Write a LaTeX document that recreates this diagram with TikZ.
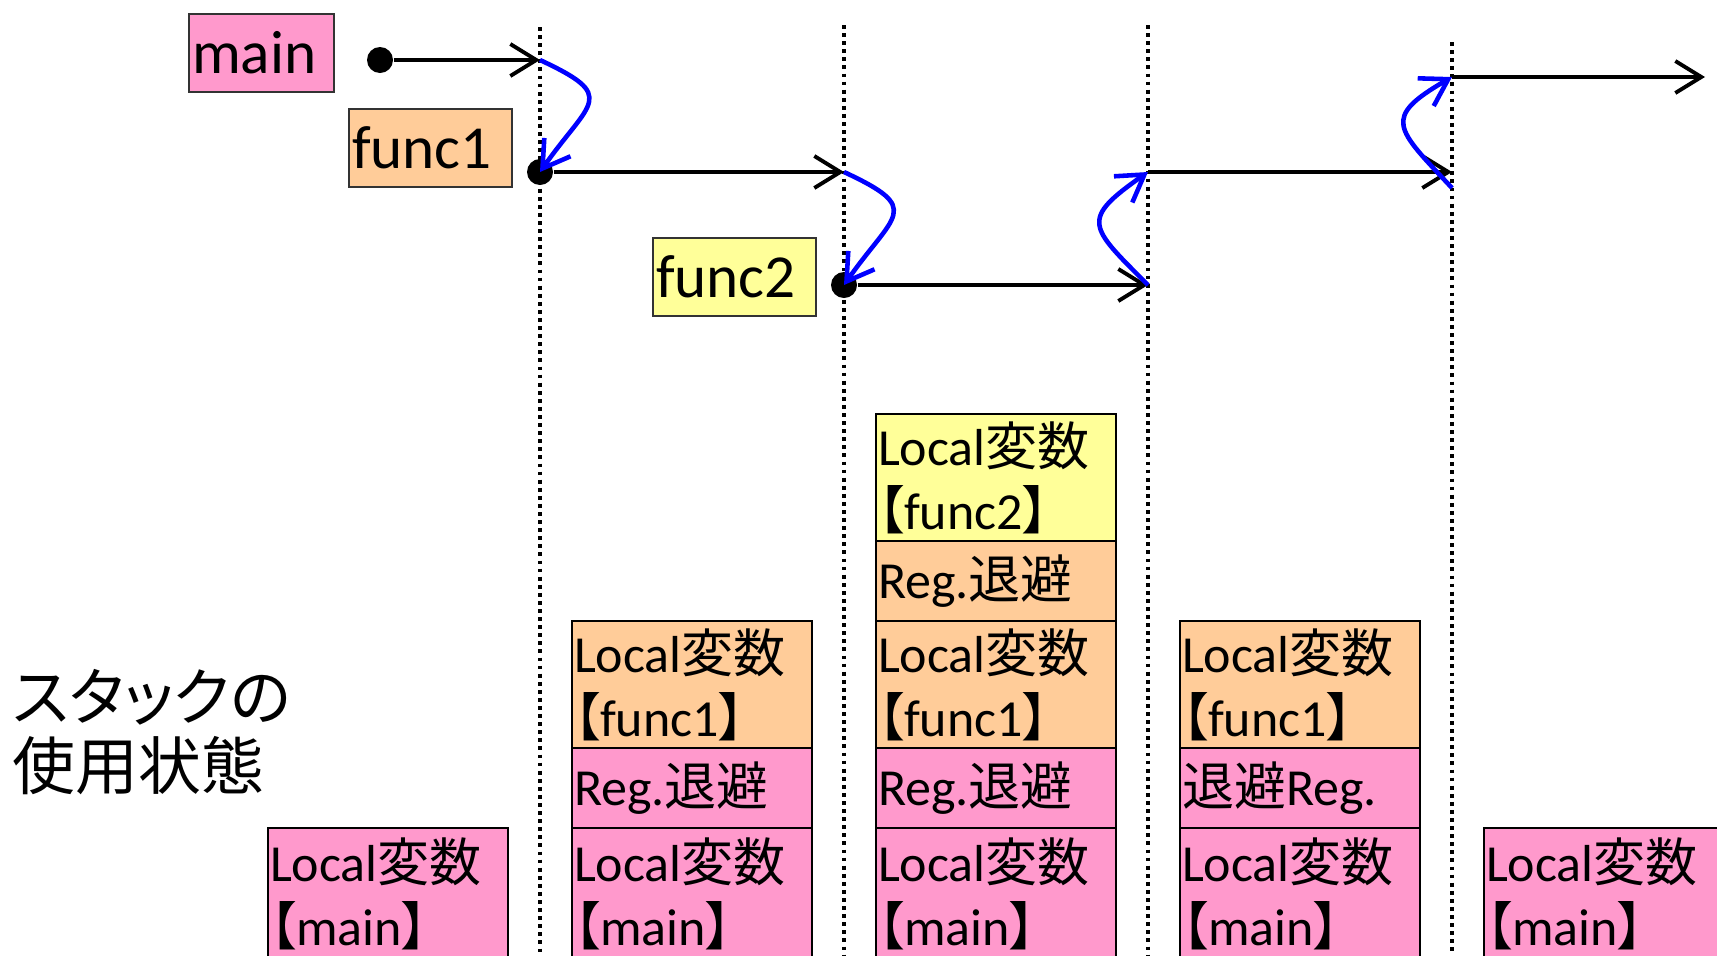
\documentclass[tikz,border=0pt]{standalone}
\usepackage{fontspec}
\setmainfont{Carlito}
\newfontfamily\jp{Noto Sans CJK JP}
\newfontfamily\jpk[RawFeature=+palt]{Noto Sans CJK JP}
\usepackage{tikz}
\usetikzlibrary{arrows.meta, positioning, shapes}
\definecolor{rosepile}{rgb}{1.0, 0.6, 0.8}
\definecolor{pechepile}{rgb}{1.0, 0.8, 0.6}
\definecolor{jaunepile}{rgb}{1.0, 1.0, 0.6}
\tikzstyle{etiquette} = [rectangle, draw = black!80, line width = 0.6pt, inner xsep = 0.03cm, inner ysep = 0cm, minimum height = 0.78cm, align = left, anchor = north west, font = \fontsize{17.4}{20}\selectfont]
\tikzstyle{pile} = [rectangle, draw = black, line width = 0.6pt, outer sep = 0pt, inner xsep = 0.02cm, inner ysep = 0cm, text width = 2.36cm, align = left, minimum height = 1.27cm, font = \fontsize{14.8}{18.2}\selectfont]
\tikzstyle{reg} = [pile, minimum height = 0.80cm]
\tikzstyle{fond} = [pile, minimum height = 1.32cm]
\tikzstyle{point} = [circle, fill = black, minimum size = 0.26cm, inner sep = 0pt]
\tikzstyle{fleche} = [->, line width = 1.1pt]
\tikzstyle{appel} = [->, blue, line width = 1.3pt]

\begin{document}
\begin{tikzpicture}[>={Straight Barb[length=0.26cm, width=0.32cm]}]
\useasboundingbox (0,0) rectangle (17.17,-9.55);

% lignes de temps
\foreach \x/\y in {5.40/0.27, 8.44/0.25, 11.48/0.25, 14.52/0.42}
  \draw[line width = 1.1pt, dash pattern = on 1.1pt off 1.2pt] (\x,-\y) -- (\x,-9.55);

\node (1) [etiquette, fill = rosepile, text width = 1.39cm] at (1.88,-0.13) {main};
\node (2) [etiquette, fill = pechepile, text width = 1.57cm] at (3.48,-1.08) {func1};
\node (3) [etiquette, fill = jaunepile, text width = 1.57cm] at (6.52,-2.37) {func2};

\node (4) [point] at (3.80,-0.60) {};
\node (5) [point] at (5.40,-1.72) {};
\node (6) [point] at (8.44,-2.85) {};

\coordinate (7) at (5.40,-0.60);
\coordinate (8) at (8.44,-1.72);
\coordinate (9) at (11.48,-2.85);
\coordinate (10) at (11.48,-1.72);
\coordinate (11) at (14.52,-1.72);
\coordinate (12) at (14.52,-1.88);
\coordinate (13) at (14.52,-0.77);
\coordinate (14) at (17.05,-0.77);

\node (15) [anchor = west, align = left, inner sep = 0pt, font = \jpk\fontsize{17.9}{19.6}\selectfont] at (0.12,-7.32) {スタックの\\使用状態};

% pile
\node (20) [fond, fill = rosepile, anchor = north west] at (2.68,-8.28) {Local{\jp 変数}\\{\jpk 【}main{\jpk 】}};

\node (30) [pile, fill = pechepile, anchor = north west] at (5.72,-6.21) {Local{\jp 変数}\\{\jpk 【}func1{\jpk 】}};
\node (31) [reg, fill = rosepile, below = 0cm of 30] {Reg.{\jp 退避}};
\node (32) [fond, fill = rosepile, below = 0cm of 31] {Local{\jp 変数}\\{\jpk 【}main{\jpk 】}};

\node (40) [pile, fill = jaunepile, anchor = north west] at (8.76,-4.14) {Local{\jp 変数}\\{\jpk 【}func2{\jpk 】}};
\node (41) [reg, fill = pechepile, below = 0cm of 40] {Reg.{\jp 退避}};
\node (42) [pile, fill = pechepile, below = 0cm of 41] {Local{\jp 変数}\\{\jpk 【}func1{\jpk 】}};
\node (43) [reg, fill = rosepile, below = 0cm of 42] {Reg.{\jp 退避}};
\node (44) [fond, fill = rosepile, below = 0cm of 43] {Local{\jp 変数}\\{\jpk 【}main{\jpk 】}};

\node (50) [pile, fill = pechepile, anchor = north west] at (11.80,-6.21) {Local{\jp 変数}\\{\jpk 【}func1{\jpk 】}};
\node (51) [reg, fill = rosepile, below = 0cm of 50] {{\jp 退避}Reg.};
\node (52) [fond, fill = rosepile, below = 0cm of 51] {Local{\jp 変数}\\{\jpk 【}main{\jpk 】}};

\node (60) [fond, fill = rosepile, anchor = north west] at (14.84,-8.28) {Local{\jp 変数}\\{\jpk 【}main{\jpk 】}};

\draw[fleche] (4) -- (7);
\draw[appel] (7) to[out = -25, in = 55, looseness = 2] (5.center);
\draw[fleche] (5) -- (8);
\draw[appel] (8) to[out = -25, in = 55, looseness = 2] (6.center);
\draw[fleche] (6) -- (9);
\draw[appel] (9) to[out = 135, in = -145, looseness = 1.9] (10);
\draw[fleche] (10) -- (11);
\draw[appel] (12) to[out = 133, in = -150, looseness = 1.9] (13);
\draw[fleche] (13) -- (14);

\end{tikzpicture}
\end{document}
